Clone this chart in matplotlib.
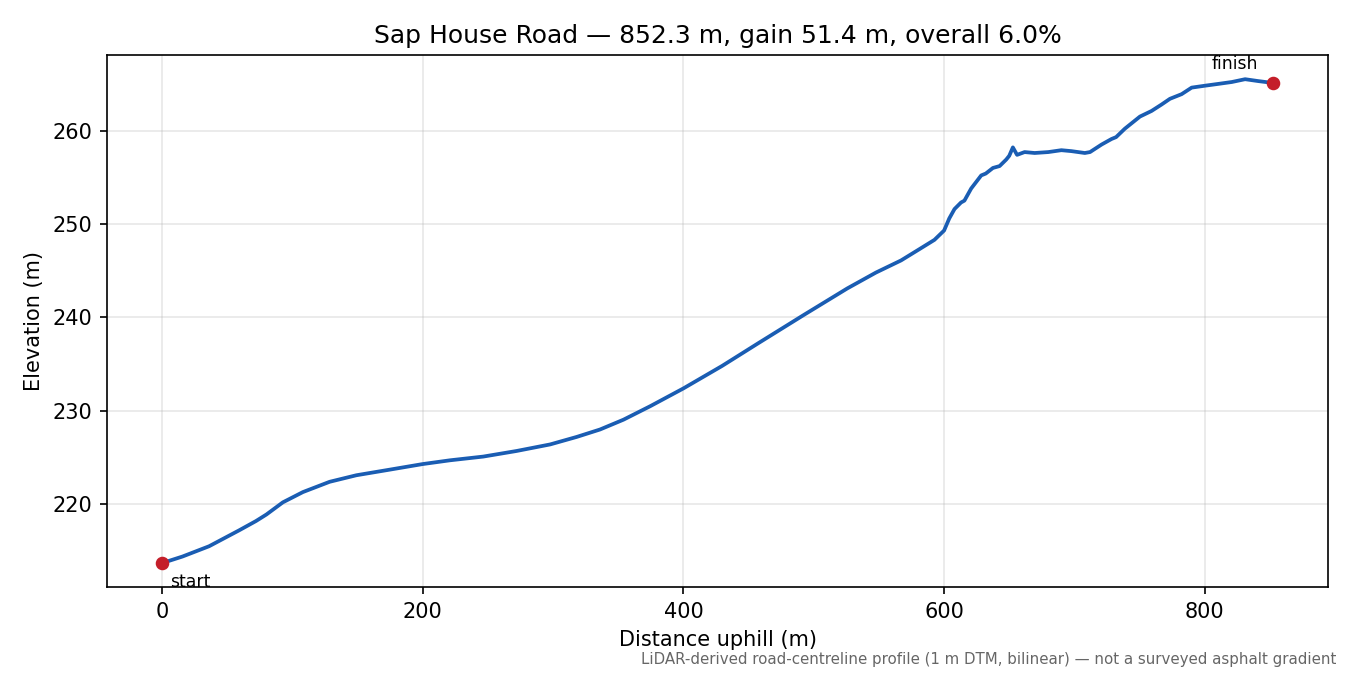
import matplotlib.pyplot as plt

dist = [0, 15.6, 36, 59, 72, 80, 92.6, 108, 128.5, 149, 174.6, 200, 220.8,
        246.4, 272, 297.7, 318, 336, 354, 374.6, 400, 429.6, 457, 492.8, 525.7,
        547.7, 567, 581, 592.6, 600, 604, 608, 613, 615.6, 620.8, 628.5, 632,
        637.5, 642.6, 647.7, 650, 652.8, 656, 661.8, 669.5, 680, 690, 697.7,
        708, 712, 720.8, 728.5, 732, 738.7, 750.3, 759.2, 767, 773.3, 782.3,
        790, 800, 810.5, 820.8, 831, 841, 852.3]
elev = [213.7, 214.4, 215.5, 217.2, 218.2, 218.9, 220.2, 221.3, 222.4, 223.1,
        223.7, 224.3, 224.7, 225.1, 225.7, 226.4, 227.2, 228.0, 229.05, 230.5,
        232.4, 234.8, 237.2, 240.3, 243.1, 244.8, 246.1, 247.3, 248.3, 249.3,
        250.6, 251.6, 252.3, 252.5, 253.8, 255.2, 255.4, 256.0, 256.2, 256.9,
        257.3, 258.2, 257.4, 257.7, 257.6, 257.7, 257.9, 257.8, 257.6, 257.7,
        258.5, 259.1, 259.3, 260.2, 261.5, 262.1, 262.8, 263.4, 263.9, 264.6,
        264.8, 265.0, 265.2, 265.5, 265.3, 265.1]

line_color = '#1a5db3'
dot_color = '#c41e2a'

fig, ax = plt.subplots(figsize=(9, 4.5), dpi=150)
fig.subplots_adjust(left=0.079, right=0.984, top=0.9185, bottom=0.130)

ax.plot(dist, elev, color=line_color, linewidth=1.8)
ax.plot([dist[0], dist[-1]], [elev[0], elev[-1]], 'o', color=dot_color,
        markersize=5.5, zorder=3)

ax.annotate('start', (dist[0], elev[0]), xytext=(4, -5), textcoords='offset points',
            va='top', ha='left', fontsize=8.3)
ax.annotate('finish', (dist[-1], elev[-1]), xytext=(-7, 5), textcoords='offset points',
            va='bottom', ha='right', fontsize=8.3)

ax.set_xlabel('Distance uphill (m)')
ax.set_ylabel('Elevation (m)')
ax.set_title('Sap House Road — 852.3 m, gain 51.4 m, overall 6.0%')
ax.grid(True, alpha=0.3)

fig.text(0.99, 0.012, 'LiDAR-derived road-centreline profile (1 m DTM, bilinear) — not a surveyed asphalt gradient',
         ha='right', va='bottom', fontsize=7.2, color='#666666')

plt.savefig('out.png', dpi=150)
